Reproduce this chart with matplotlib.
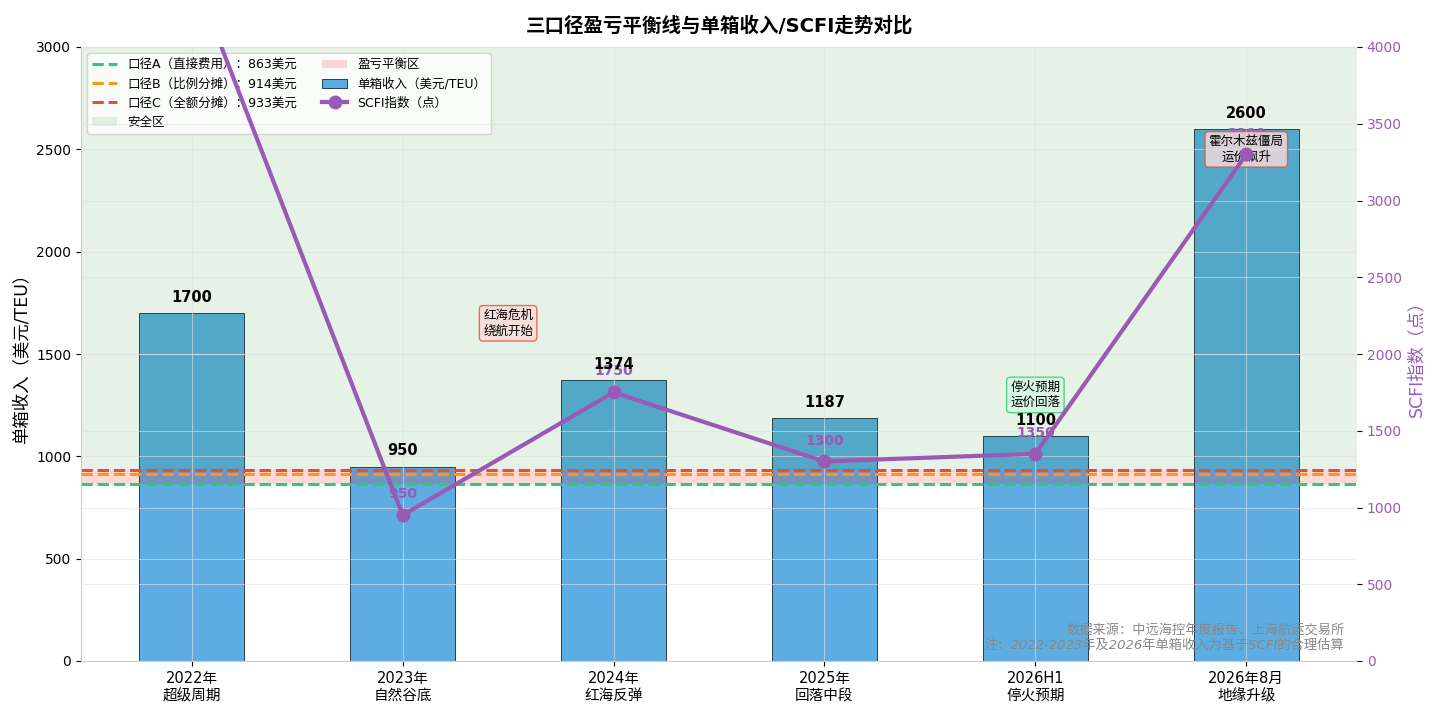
import matplotlib
matplotlib.use("Agg")
import matplotlib.pyplot as plt
import numpy as np

plt.rcParams['font.family'] = ['DejaVu Sans', 'Noto Sans CJK SC']
plt.rcParams['axes.unicode_minus'] = False

# ---- data ----
periods = ['2022年\n超级周期', '2023年\n自然谷底', '2024年\n红海反弹',
           '2025年\n回落中段', '2026H1\n停火预期', '2026年8月\n地缘升级']
revenue = [1700, 950, 1374, 1187, 1100, 2600]
scfi = [4500, 950, 1750, 1300, 1350, 3300]
breakeven_labels = ['口径A（直接费用）：863美元', '口径B（比例分摊）：914美元', '口径C（全额分摊）：933美元']
breakeven_values = [863, 914, 933]
breakeven_colors = ['#2ecc71', '#f39c12', '#e74c3c']
events = [(1.5, 1650, '红海危机\n绕航开始', 'red'),
          (4, 1300, '停火预期\n运价回落', 'green'),
          (5, 2500, '霍尔木兹僵局\n运价飙升', 'red')]
footer = '数据来源：中远海控年度报告、上海航运交易所\n注：2022-2023年及2026年单箱收入为基于SCFI的合理估算'

W, H = 1438, 714
fig = plt.figure(figsize=(W / 100, H / 100), dpi=100)
ax = fig.add_axes([81 / W, 1 - 661 / H, (1357 - 81) / W, (661 - 47) / H])
ax2 = ax.twinx()

x = np.arange(len(periods))
bars = ax.bar(x, revenue, width=0.5, color='#5DADE2', edgecolor='#2c3e50',
              linewidth=0.7, label='单箱收入（美元/TEU）')

ax.set_ylim(0, 3000)
safe = ax.axhspan(max(breakeven_values), 3000, color='green', alpha=0.1, lw=0, label='安全区')
zone = ax.axhspan(min(breakeven_values), max(breakeven_values), color='red', alpha=0.15, lw=0, label='盈亏平衡区')

lines = []
for v, lab, c in zip(breakeven_values, breakeven_labels, breakeven_colors):
    l = ax.axhline(v, color=c, linestyle='--', linewidth=2.2, label=lab, zorder=2)
    lines.append(l)

ax.set_xticks(x)
ax.set_xticklabels(periods, fontsize=10.5)
ax.tick_params(axis='y', labelsize=10)
ax.set_ylabel('单箱收入（美元/TEU）', fontsize=12.5)
ax.grid(True, color='#e0e0e0', alpha=0.6, linewidth=0.8)

for s in ['top', 'right']:
    ax.spines[s].set_visible(False)
for s in ['left', 'bottom']:
    ax.spines[s].set_color('#cccccc')

# SCFI
purple = '#9b59b6'
ax2.set_ylim(0, 4000)
sl, = ax2.plot(x, scfi, color=purple, linewidth=3, marker='o', markersize=9,
               label='SCFI指数（点）', zorder=5)
for xi, v in zip(x, scfi):
    ax2.annotate(f'{v}', (xi, v), xytext=(0, 10), textcoords='offset points',
                 ha='center', va='bottom', fontsize=10, fontweight='bold',
                 color=purple, zorder=3)
for xi, v in zip(x, revenue):
    ax2.text(xi, v + 40, f'{v}', transform=ax.transData, ha='center', va='bottom',
             fontsize=10.5, fontweight='bold', color='black', zorder=4)
for ex, ey, txt, kind in events:
    if kind == 'red':
        fc, ec = '#fadbd8', '#e74c3c'
    else:
        fc, ec = '#d5f5e3', '#2ecc71'
    ax2.text(ex, ey, txt, transform=ax.transData, ha='center', va='center',
             fontsize=9, zorder=3,
             bbox=dict(boxstyle='round,pad=0.3', facecolor=fc, edgecolor=ec, alpha=0.8))

ax2.set_ylabel('SCFI指数（点）', fontsize=12.5, color=purple)
ax2.tick_params(axis='y', labelcolor=purple, labelsize=10)
ax2.grid(True, color='#e0e0e0', alpha=0.6, linewidth=0.8)
for s in ['top', 'right', 'left', 'bottom']:
    ax2.spines[s].set_visible(False)

handles = lines + [safe, zone, bars, sl]
labels = [h.get_label() for h in handles]
ax.legend(handles, labels, loc='upper left', ncol=2, fontsize=9, framealpha=0.8)

ax.set_title('三口径盈亏平衡线与单箱收入/SCFI走势对比', fontsize=14, fontweight='bold', pad=11)

ax2.text(0.99, 0.015, footer, transform=ax.transAxes, ha='right', va='bottom',
         fontsize=9.5, color='#888888', style='italic', zorder=6)

fig.savefig('out.png', dpi=100)
